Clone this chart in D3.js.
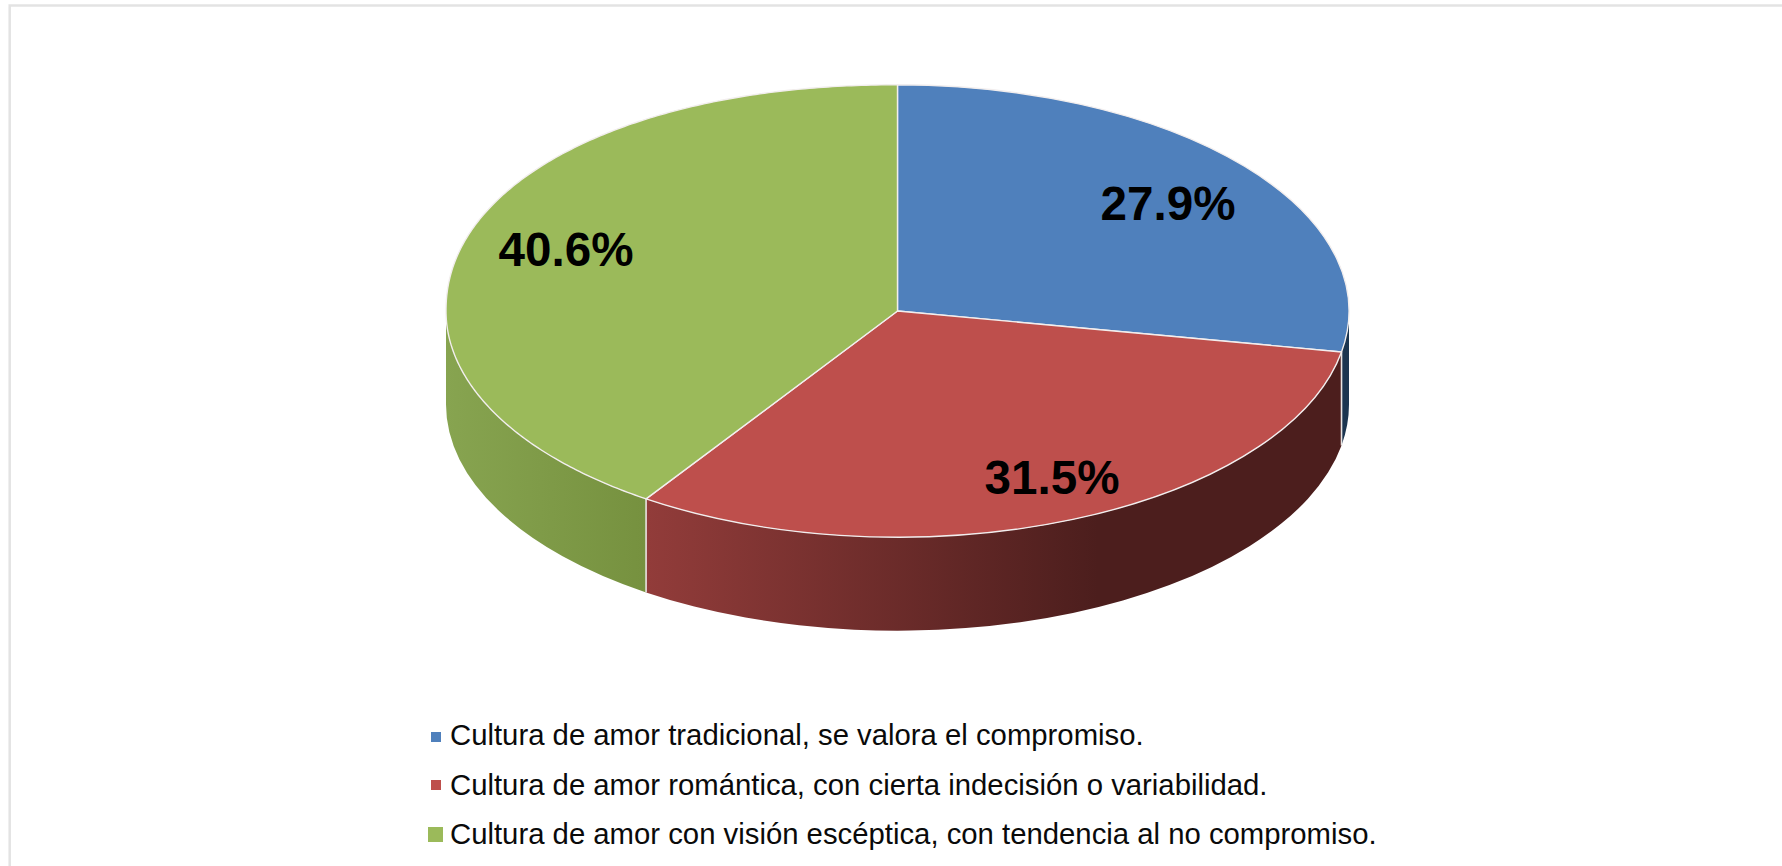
<!DOCTYPE html>
<html><head><meta charset="utf-8">
<script src="https://cdn.jsdelivr.net/npm/d3@7"></script>
<style>html,body{margin:0;padding:0;background:#fff;overflow:hidden}svg{display:block}</style>
</head><body>
<script>
const categories = ["Cultura de amor tradicional, se valora el compromiso.",
  "Cultura de amor romántica, con cierta indecisión o variabilidad.",
  "Cultura de amor con visión escéptica, con tendencia al no compromiso."];
const values = [27.9, 31.5, 40.6];
const labels = ["27.9%", "31.5%", "40.6%"];
const topColors = ["#4f80bc", "#be4f4c", "#9bba5a"];
const sideStops = [
  [["0%","#1b3550"],["100%","#1b3550"]],
  [["0%","#923c3a"],["65%","#4c1e1d"],["100%","#4c1e1d"]],
  [["0%","#87a450"],["100%","#76913f"]]
];
const W=1782,H=866,cx=897.5,cy=311,rx=451.5,ry=226.2,depth=93.5;
const svg=d3.select("body").append("svg").attr("width",W).attr("height",H);
const font="'Liberation Sans',Arial,sans-serif";
svg.append("rect").attr("x",0).attr("y",0).attr("width",W).attr("height",H).attr("fill","#fff");
svg.append("path").attr("d",`M9.7,${H} V5.5 H${W}`).attr("fill","none").attr("stroke","#e3e3e3").attr("stroke-width",2.5);

const pie=d3.pie().sort(null).value(d=>d)(values);
const defs=svg.append("defs");
const px=a=>rx*Math.sin(a), py=a=>-ry*Math.cos(a);
const wallRanges=pie.map(p=>[Math.max(p.startAngle,Math.PI/2),Math.min(p.endAngle,Math.PI*1.5)]);
const g=svg.append("g").attr("transform",`translate(${cx},${cy})`);
wallRanges.forEach((r,i)=>{
  const xs=[px(r[0]),px(r[1])];
  const grad=defs.append("linearGradient").attr("id","side"+i).attr("gradientUnits","userSpaceOnUse")
    .attr("x1",Math.min(...xs)).attr("x2",Math.max(...xs)).attr("y1",0).attr("y2",0);
  sideStops[i].forEach(s=>grad.append("stop").attr("offset",s[0]).attr("stop-color",s[1]));
});
wallRanges.forEach((r,i)=>{
  const d=`M${px(r[0])},${py(r[0])} A${rx},${ry} 0 0 1 ${px(r[1])},${py(r[1])} L${px(r[1])},${py(r[1])+depth} A${rx},${ry} 0 0 0 ${px(r[0])},${py(r[0])+depth} Z`;
  g.append("path").attr("d",d).attr("fill",`url(#side${i})`);
});
[pie[0].endAngle,pie[1].endAngle].forEach(a=>{
  g.append("line").attr("x1",px(a)).attr("x2",px(a)).attr("y1",py(a)).attr("y2",py(a)+depth)
   .attr("stroke","#e8e4e2").attr("stroke-width",1.6);
});
const arc=d3.arc().innerRadius(0).outerRadius(rx);
g.append("g").attr("transform",`scale(1,${ry/rx})`).selectAll("path").data(pie.slice(0,2)).join("path")
  .attr("d",arc).attr("fill",(d,i)=>topColors[i]).attr("stroke","#f2eeee").attr("stroke-width",1.4)
  .attr("vector-effect","non-scaling-stroke").attr("stroke-linejoin","round");
// The reference's upper-left rim bulges slightly beyond a true ellipse.
const bulge=2.1;
const rim=a=>{
  if(a<=Math.PI*1.5) return [px(a),py(a)];
  const t=a-Math.PI*1.5;
  return [-rx*Math.pow(Math.cos(t),2/bulge),-ry*Math.pow(Math.sin(t),2/bulge)];
};
const green=pie[2];
const samples=d3.range(green.startAngle,green.endAngle,0.01).concat([green.endAngle]);
g.append("path").attr("d",d3.line()(samples.map(rim))+"L0,0Z")
  .attr("fill",topColors[2]).attr("stroke","#f2eeee").attr("stroke-width",1.4).attr("stroke-linejoin","round");

const labelPos=[[1168,220],[1052,494],[566,266]];
svg.selectAll("text.v").data(labels).join("text").attr("class","v")
  .attr("x",(d,i)=>labelPos[i][0]).attr("y",(d,i)=>labelPos[i][1])
  .attr("text-anchor","middle").attr("font-family",font).attr("font-weight","bold")
  .attr("font-size",47.6).attr("fill","#000").text(d=>d);

const legendY=[745,795,844];
const swatch=[[431,732,10,10],[431,780,10,10],[428,827,15,15]];
svg.selectAll("rect.k").data(categories).join("rect").attr("class","k")
  .attr("x",(d,i)=>swatch[i][0]).attr("y",(d,i)=>swatch[i][1])
  .attr("width",(d,i)=>swatch[i][2]).attr("height",(d,i)=>swatch[i][3])
  .attr("fill",(d,i)=>topColors[i]);
svg.selectAll("text.l").data(categories).join("text").attr("class","l")
  .attr("x",450).attr("y",(d,i)=>legendY[i])
  .attr("font-family",font).attr("font-size",29.3).attr("fill","#0a0a0a").text(d=>d);
</script>
</body></html>
